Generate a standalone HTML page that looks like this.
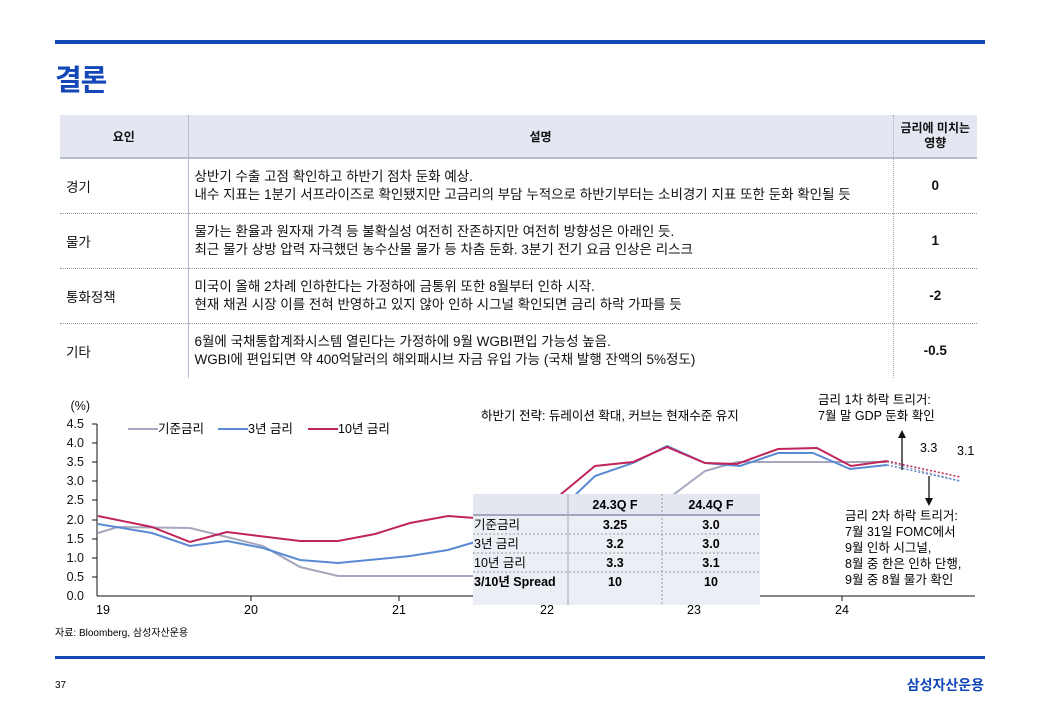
<!DOCTYPE html>
<html><head><meta charset="utf-8"><style>
body{margin:0;width:1040px;height:720px;background:#fff;font-family:"Liberation Sans","Noto Sans CJK KR",sans-serif;position:relative;overflow:hidden;color:#111}
.a{position:absolute}
table{border-collapse:collapse;font-size:13.5px;table-layout:fixed}
td{padding:0 6px;overflow:visible}
</style></head><body>
<div class="a" style="left:55px;top:40px;width:930px;height:4px;background:#1448b8"></div>
<div class="a" style="left:55px;top:57px;font-size:29px;font-weight:bold;color:#1448b8;letter-spacing:-1px">결론</div>
<table class="a" style="left:60px;top:115px;width:917px">
<colgroup><col style="width:128px"><col style="width:705px"><col style="width:84px"></colgroup>
<tr style="height:43px;background:#e4e6f1;border-bottom:2px solid #b8bcd0;font-weight:bold;font-size:12px">
<td style="text-align:center;border-right:1px solid #b8bcd0">요인</td>
<td style="text-align:center">설명</td>
<td style="text-align:center;border-left:1px dotted #aaa;line-height:15px;padding:0;white-space:nowrap">금리에 미치는<br>영향</td></tr>
<tr style="height:55px;border-bottom:1px dotted #999"><td style="border-right:1px solid #b8bcd0">경기</td><td style="line-height:18px;white-space:nowrap">상반기 수출 고점 확인하고 하반기 점차 둔화 예상.<br>내수 지표는 1분기 서프라이즈로 확인됐지만 고금리의 부담 누적으로 하반기부터는 소비경기 지표 또한 둔화 확인될 듯</td><td style="text-align:center;font-weight:bold;border-left:1px dotted #aaa">0</td></tr>
<tr style="height:55px;border-bottom:1px dotted #999"><td style="border-right:1px solid #b8bcd0">물가</td><td style="line-height:18px;white-space:nowrap">물가는 환율과 원자재 가격 등 불확실성 여전히 잔존하지만 여전히 방향성은 아래인 듯.<br>최근 물가 상방 압력 자극했던 농수산물 물가 등 차츰 둔화. 3분기 전기 요금 인상은 리스크</td><td style="text-align:center;font-weight:bold;border-left:1px dotted #aaa">1</td></tr>
<tr style="height:55px;border-bottom:1px dotted #999"><td style="border-right:1px solid #b8bcd0">통화정책</td><td style="line-height:18px;white-space:nowrap">미국이 올해 2차례 인하한다는 가정하에 금통위 또한 8월부터 인하 시작.<br>현재 채권 시장 이를 전혀 반영하고 있지 않아 인하 시그널 확인되면 금리 하락 가파를 듯</td><td style="text-align:center;font-weight:bold;border-left:1px dotted #aaa">-2</td></tr>
<tr style="height:55px"><td style="border-right:1px solid #b8bcd0">기타</td><td style="line-height:18px;white-space:nowrap">6월에 국채통합계좌시스템 열린다는 가정하에 9월 WGBI편입 가능성 높음.<br>WGBI에 편입되면 약 400억달러의 해외패시브 자금 유입 가능 (국채 발행 잔액의 5%정도)</td><td style="text-align:center;font-weight:bold;border-left:1px dotted #aaa">-0.5</td></tr>
</table>
<svg class="a" style="left:0;top:0" width="1040" height="720" font-family="Liberation Sans, Noto Sans CJK KR, sans-serif">
<g font-size="12.5" fill="#111" text-anchor="end">
<text x="90" y="410">(%)</text>
<text x="84" y="428">4.5</text><text x="84" y="447">4.0</text><text x="84" y="466">3.5</text><text x="84" y="485">3.0</text><text x="84" y="504">2.5</text><text x="84" y="524">2.0</text><text x="84" y="543">1.5</text><text x="84" y="562">1.0</text><text x="84" y="581">0.5</text><text x="84" y="600">0.0</text>
</g>
<g stroke="#111" stroke-width="1">
<line x1="97" y1="424" x2="97" y2="596"/><line x1="97" y1="596" x2="975" y2="596"/>
<line x1="92" y1="424" x2="97" y2="424"/><line x1="92" y1="443" x2="97" y2="443"/><line x1="92" y1="462" x2="97" y2="462"/><line x1="92" y1="481" x2="97" y2="481"/><line x1="92" y1="500" x2="97" y2="500"/><line x1="92" y1="520" x2="97" y2="520"/><line x1="92" y1="539" x2="97" y2="539"/><line x1="92" y1="558" x2="97" y2="558"/><line x1="92" y1="577" x2="97" y2="577"/>
<line x1="251" y1="596" x2="251" y2="601"/><line x1="399" y1="596" x2="399" y2="601"/><line x1="547" y1="596" x2="547" y2="601"/><line x1="694" y1="596" x2="694" y2="601"/><line x1="842" y1="596" x2="842" y2="601"/>
</g>
<g fill="none" stroke-width="2">
<polyline stroke="#a4a7bd" points="98,533 118,527 190,528 227,537 263,546 300,567 338,576 475,576"/>
<polyline stroke="#a4a7bd" points="673,495 705,471 737,462 887,462"/>
<polyline stroke="#5b8ad4" points="98,524 152,533 190,546 227,541 263,548 300,560 338,563 410,556 448,550 475,542"/>
<polyline stroke="#5b8ad4" points="570,500 595,476 633,463 667,446 705,463 740,466 778,453 813,453 850,469 887,465"/>
<polyline stroke="#c0245a" points="98,516 152,527 190,542 227,532 300,541 338,541 375,534 410,523 448,516 475,518"/>
<polyline stroke="#c0245a" points="560,495 595,466 633,462 667,447 705,463 737,464 778,449 817,448 851,466 887,461"/>
<g stroke-width="1.5" stroke-dasharray="2,2"><line x1="887" y1="462" x2="960" y2="481" stroke="#a4a7bd"/><line x1="887" y1="465" x2="960" y2="481" stroke="#5b8ad4"/><line x1="887" y1="461" x2="960" y2="477" stroke="#c0245a"/></g>
</g>
<g stroke-width="2"><line x1="128" y1="429" x2="158" y2="429" stroke="#a4a7bd"/><line x1="218" y1="429" x2="248" y2="429" stroke="#5b8ad4"/><line x1="308" y1="429" x2="338" y2="429" stroke="#c0245a"/></g>
<g font-size="12.5"><text x="158" y="433">기준금리</text><text x="248" y="433">3년 금리</text><text x="338" y="433">10년 금리</text>
<text x="481" y="420">하반기 전략: 듀레이션 확대, 커브는 현재수준 유지</text>
<text x="818" y="404">금리 1차 하락 트리거:</text><text x="818" y="420">7월 말 GDP 둔화 확인</text>
<text x="920" y="452">3.3</text><text x="957" y="455">3.1</text>
<text x="845" y="520">금리 2차 하락 트리거:</text><text x="845" y="536">7월 31일 FOMC에서</text><text x="845" y="552">9월 인하 시그널,</text><text x="845" y="568">8월 중 한은 인하 단행,</text><text x="845" y="584">9월 중 8월 물가 확인</text>
<text x="55" y="636" font-size="10">자료: Bloomberg, 삼성자산운용</text></g>
<g stroke="#111" stroke-width="1.3"><line x1="902" y1="470" x2="902" y2="436"/><line x1="929" y1="476" x2="929" y2="500"/></g>
<polygon points="898,438 906,438 902,430" fill="#111"/><polygon points="925,498 933,498 929,506" fill="#111"/>
<rect x="473" y="494" width="287" height="111" fill="#eceef5"/>
<rect x="473" y="494" width="287" height="20" fill="#e4e6f0"/>
<line x1="473" y1="515" x2="760" y2="515" stroke="#a4a7bd" stroke-width="2"/>
<g stroke="#999" stroke-dasharray="2,2"><line x1="473" y1="534" x2="760" y2="534"/><line x1="473" y1="553" x2="760" y2="553"/><line x1="473" y1="572" x2="760" y2="572"/><line x1="662" y1="494" x2="662" y2="605"/></g>
<line x1="568" y1="494" x2="568" y2="605" stroke="#a4a7bd"/>
<g font-size="12.5" text-anchor="middle" font-weight="bold"><text x="615" y="509">24.3Q F</text><text x="711" y="509">24.4Q F</text>
<text x="615" y="529">3.25</text><text x="711" y="529">3.0</text><text x="615" y="548">3.2</text><text x="711" y="548">3.0</text><text x="615" y="567">3.3</text><text x="711" y="567">3.1</text><text x="615" y="586">10</text><text x="711" y="586">10</text></g>
<g font-size="12.5"><text x="474" y="529">기준금리</text><text x="474" y="548">3년 금리</text><text x="474" y="567">10년 금리</text><text x="474" y="586" font-weight="bold">3/10년 Spread</text></g>
<g font-size="12.5" text-anchor="middle"><text x="103" y="614">19</text><text x="251" y="614">20</text><text x="399" y="614">21</text><text x="547" y="614">22</text><text x="694" y="614">23</text><text x="842" y="614">24</text></g>
<rect x="55" y="656" width="930" height="3" fill="#1448b8"/>
<text x="55" y="688" font-size="10">37</text>
<text x="984" y="690" font-size="14" font-weight="bold" fill="#1448b8" text-anchor="end">삼성자산운용</text>
</svg>
</body></html>
